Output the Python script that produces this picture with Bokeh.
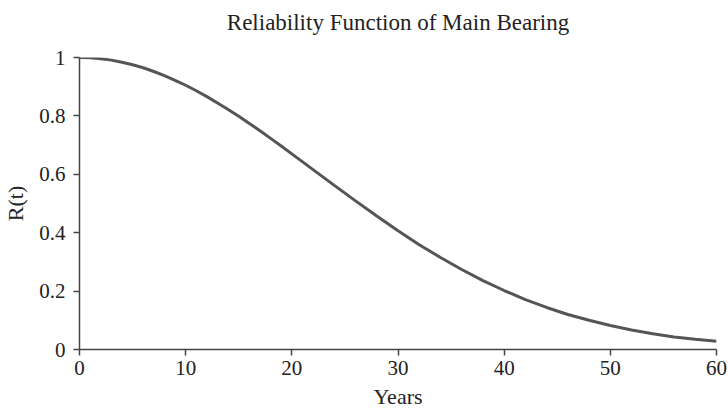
from bokeh.plotting import figure
from bokeh.models import Range1d, FixedTicker, Title
from bokeh.embed import file_html
from bokeh.resources import INLINE

# Data
years = [0, 1, 2, 3, 4, 5, 6, 7, 8, 9, 10, 11, 12, 13, 14, 15, 16, 17, 18, 19,
         20, 22, 24, 26, 28, 30, 32, 34, 36, 38, 40, 42, 44, 46, 48, 50,
         52, 54, 56, 58, 60]
reliability = [1.0, 0.999, 0.996, 0.991, 0.984, 0.975, 0.965, 0.952, 0.938,
               0.922, 0.905, 0.886, 0.866, 0.844, 0.822, 0.799, 0.774, 0.749,
               0.723, 0.697, 0.670, 0.616, 0.562, 0.509, 0.457, 0.407, 0.359,
               0.315, 0.274, 0.236, 0.202, 0.171, 0.144, 0.120, 0.100, 0.082,
               0.067, 0.054, 0.043, 0.035, 0.028]
x_ticks = [0, 10, 20, 30, 40, 50, 60]
y_ticks = [0, 0.2, 0.4, 0.6, 0.8, 1]
y_tick_labels = ["0", "0.2", "0.4", "0.6", "0.8", "1"]
title_text = "Reliability Function of Main Bearing"

FONT = "Liberation Serif"
AXIS_COLOR = "#444444"

p = figure(width=728, height=413, output_backend="svg", toolbar_location=None,
           x_range=Range1d(0, 60), y_range=Range1d(0, 1),
           title=title_text,
           min_border_left=79, min_border_right=12,
           min_border_top=57, min_border_bottom=64)

p.line(years, reliability, line_color="#555555", line_width=3)

p.title.align = "center"
p.title.text_font = FONT
p.title.text_font_size = "23px"
p.title.text_font_style = "normal"
p.title.text_color = "#222222"
p.title.standoff = 8

# empty spacer between the title and the plotting frame
spacer = Title(text=" ", text_font_size="10px", standoff=6)
p.add_layout(spacer, "above")

p.grid.visible = False
p.outline_line_color = None
p.background_fill_color = "white"
p.border_fill_color = "white"

for ax in (p.xaxis[0], p.yaxis[0]):
    ax.axis_line_color = AXIS_COLOR
    ax.axis_line_width = 1.5
    ax.major_tick_line_color = AXIS_COLOR
    ax.major_tick_line_width = 1.5
    ax.major_tick_out = 6
    ax.major_tick_in = 0
    ax.minor_tick_line_color = None
    ax.major_label_text_font = FONT
    ax.major_label_text_font_size = "21px"
    ax.major_label_text_color = "#222222"
    ax.axis_label_text_font = FONT
    ax.axis_label_text_font_size = "22px"
    ax.axis_label_text_font_style = "normal"
    ax.axis_label_text_color = "#222222"

p.xaxis[0].ticker = FixedTicker(ticks=x_ticks)
p.yaxis[0].ticker = FixedTicker(ticks=y_ticks)
p.yaxis[0].major_label_overrides = {t: l for t, l in zip(y_ticks, y_tick_labels)}
p.xaxis[0].axis_label = "Years"
p.yaxis[0].axis_label = "R(t)"
p.xaxis[0].major_label_standoff = 5
p.xaxis[0].axis_label_standoff = 6
p.yaxis[0].major_label_standoff = 8
p.yaxis[0].axis_label_standoff = 8

open("out.html", "w").write(file_html(p, INLINE))
